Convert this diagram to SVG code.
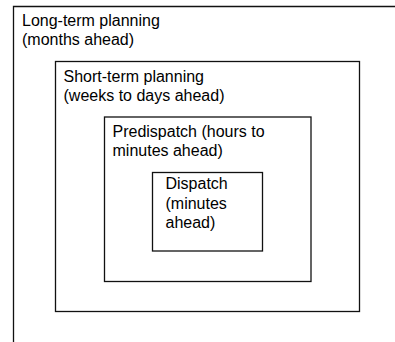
<svg xmlns="http://www.w3.org/2000/svg" width="395" height="342" viewBox="0 0 395 342">
<style>
.box{fill:none;stroke:#111;stroke-width:1.3}
.t{font-family:"Liberation Sans",Arial,sans-serif;font-size:16px;fill:#000}
</style>
<rect width="395" height="342" fill="#fff"/>
<g id="long-term">
<path class="box" d="M395,6.5 H13.5 V342"/>
<text class="t" x="22" y="25.5">Long-term planning</text>
<text class="t" x="22" y="44.5">(months ahead)</text>
</g>
<g id="short-term">
<rect class="box" x="55.5" y="61.5" width="304" height="250"/>
<text class="t" x="63.5" y="81.5">Short-term planning</text>
<text class="t" x="63.5" y="100.5">(weeks to days ahead)</text>
</g>
<g id="predispatch">
<rect class="box" x="104.5" y="117" width="206.5" height="164.5"/>
<text class="t" x="112.5" y="136.5">Predispatch (hours to</text>
<text class="t" x="112.5" y="155.5">minutes ahead)</text>
</g>
<g id="dispatch">
<rect class="box" x="152.5" y="172.5" width="110" height="78.5"/>
<text class="t" x="165.5" y="189">Dispatch</text>
<text class="t" x="165.5" y="208.5">(minutes</text>
<text class="t" x="165.5" y="228">ahead)</text>
</g>
<g id="connectors"/>
</svg>
